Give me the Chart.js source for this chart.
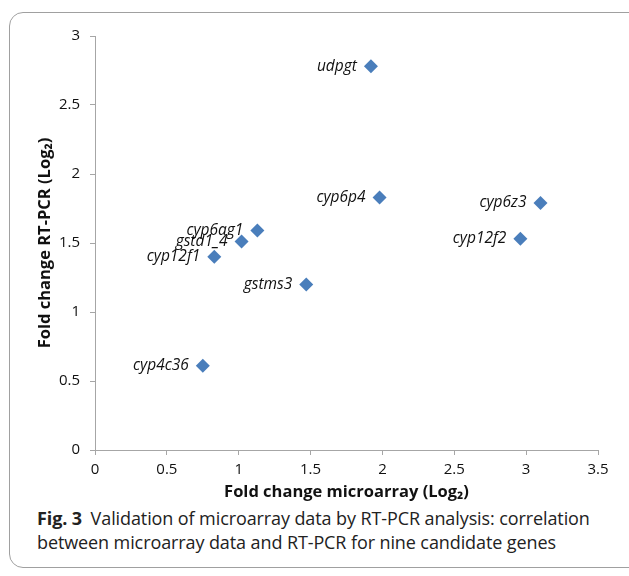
<!DOCTYPE html>
<html>
<head>
<meta charset="utf-8">
<script src="https://cdn.jsdelivr.net/npm/chart.js@4"></script>
<style>
  html, body { margin: 0; padding: 0; background: #fff; overflow: hidden; }
  body { width: 629px; height: 576px; position: relative; font-family: "Open Sans", sans-serif; }
  .frame { position: absolute; left: 9px; top: 12px; width: 640px; height: 556px; border: 1.5px solid #a0a0a0; border-radius: 14px; box-sizing: border-box; }
  #chart { position: absolute; left: 0; top: 0; }
  .caption { position: absolute; left: 37px; top: 506px; font-size: 18px; line-height: 24px; color: #222; letter-spacing: -0.1px; }
  .caption b { font-weight: 700; margin-right: 4px; }
</style>
</head>
<body>
<div class="frame"></div>
<canvas id="chart" width="629" height="506"></canvas>
<div class="caption"><b>Fig. 3</b> Validation of microarray data by RT-PCR analysis: correlation<br>between microarray data and RT-PCR for nine candidate genes</div>
<script>
// genes and their fold changes (log2)
const genes = ['udpgt', 'cyp6p4', 'cyp6z3', 'cyp12f2', 'cyp6ag1', 'gstd1_4', 'cyp12f1', 'gstms3', 'cyp4c36'];
const microarray = [1.92, 1.98, 3.10, 2.96, 1.13, 1.02, 0.83, 1.47, 0.75];
const rtpcr = [2.78, 1.83, 1.79, 1.53, 1.59, 1.51, 1.40, 1.20, 0.61];

const xRange = [0, 3.5];
const yRange = [0, 3];
const tickStep = 0.5;

// gene names written to the left of each point
const pointLabels = {
    id: 'pointLabels',
    afterDatasetsDraw(chart) {
        const ctx = chart.ctx;
        const meta = chart.getDatasetMeta(0);
        ctx.save();
        ctx.font = 'italic 15.5px "Open Sans"';
        ctx.fillStyle = '#111';
        ctx.textAlign = 'right';
        ctx.textBaseline = 'middle';
        meta.data.forEach((pt, i) => {
            ctx.fillText(genes[i], pt.x - 14, pt.y);
        });
        ctx.restore();
    }
};

const plain = v => String(Number(v));

new Chart(document.getElementById('chart'), {
    type: 'scatter',
    data: {
        datasets: [{
            data: microarray.map((x, i) => ({ x: x, y: rtpcr[i] })),
            pointStyle: 'rectRot',
            pointRadius: 7,
            backgroundColor: '#4a7ebb',
            borderColor: '#4a7ebb',
            borderWidth: 0
        }]
    },
    options: {
        responsive: false,
        animation: false,
        devicePixelRatio: 1,
        layout: { padding: { left: 31, right: 31, top: 36, bottom: 0 } },
        plugins: { legend: { display: false }, tooltip: { enabled: false } },
        scales: {
            x: {
                type: 'linear',
                min: xRange[0], max: xRange[1],
                ticks: { stepSize: tickStep, padding: 6, color: '#111', callback: plain, font: { family: 'Open Sans', size: 15 } },
                grid: { drawOnChartArea: false, drawTicks: true, tickLength: 5, color: '#a6a6a6' },
                border: { color: '#a6a6a6', width: 1 },
                title: { display: true, text: 'Fold change microarray (Log₂)', color: '#111', font: { family: 'Open Sans', size: 16.5, weight: 'bold' } },
                afterFit: s => { s.height = 56; }
            },
            y: {
                type: 'linear',
                min: yRange[0], max: yRange[1],
                ticks: { stepSize: tickStep, padding: 10, color: '#111', callback: plain, font: { family: 'Open Sans', size: 15 } },
                grid: { drawOnChartArea: false, drawTicks: true, tickLength: 5, color: '#a6a6a6' },
                border: { color: '#a6a6a6', width: 1 },
                title: { display: true, text: 'Fold change RT-PCR (Log₂)', color: '#111', font: { family: 'Open Sans', size: 16.5, weight: 'bold' } },
                afterFit: s => { s.width = 64; }
            }
        }
    },
    plugins: [pointLabels]
});
</script>
</body>
</html>
